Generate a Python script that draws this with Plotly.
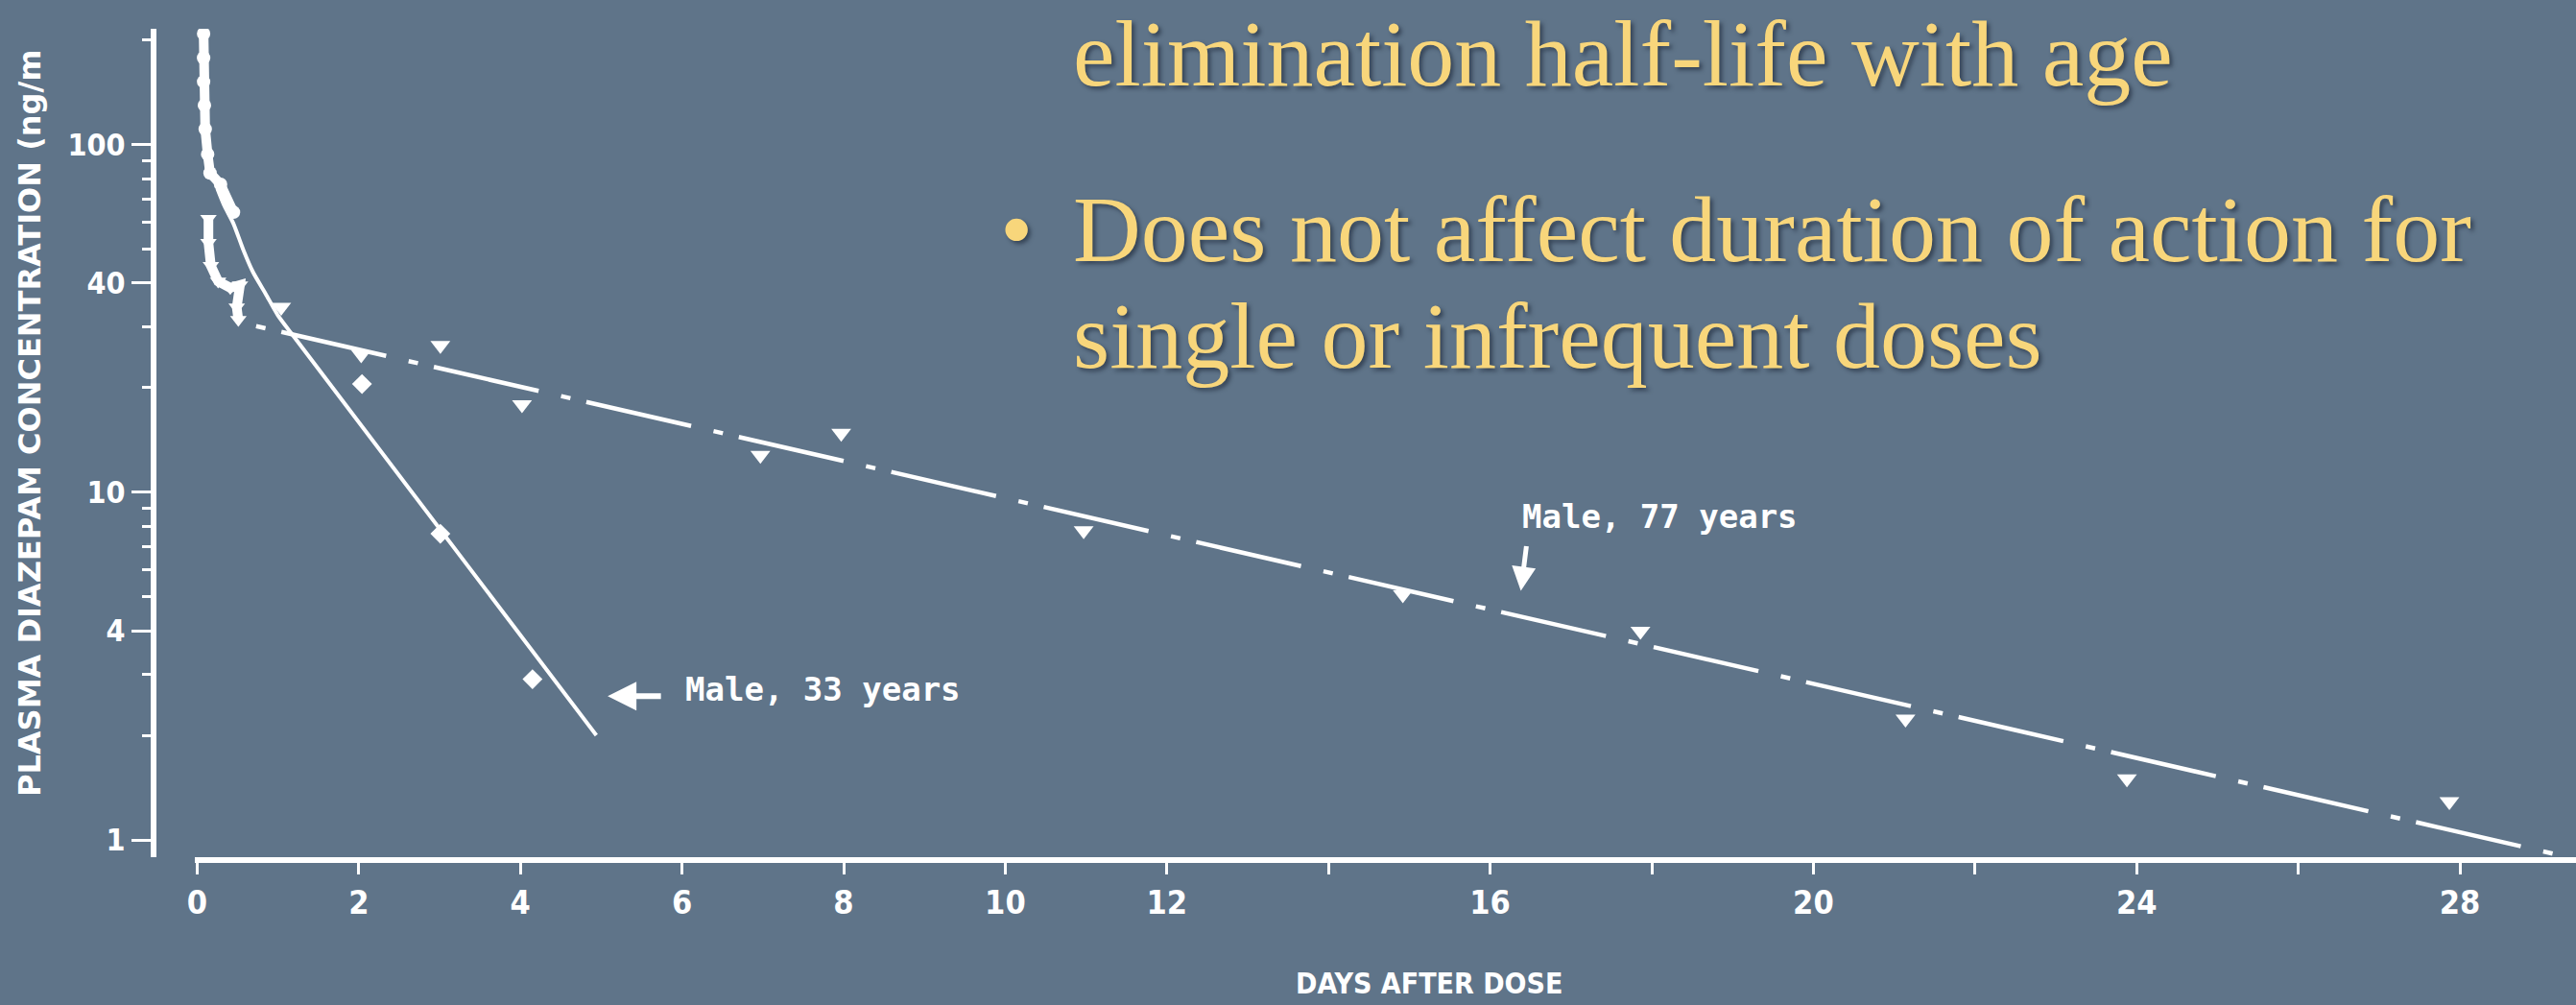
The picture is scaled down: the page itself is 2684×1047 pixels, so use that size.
import math
import plotly.graph_objects as go

# ---------------- data ----------------
# Male, 33 years: early (merged) samples and later samples
young_early_days = [0.08, 0.08, 0.08, 0.09, 0.10, 0.13, 0.16, 0.29, 0.45]
young_early_conc = [209, 178, 152, 130, 111, 94, 83, 77, 64]
young_late_days = [2.04, 3.01, 4.15]
young_late_conc = [20.5, 7.6, 2.9]
# fitted curve for the 33-year-old (solid)
young_fit_days = [0.25, 0.33, 0.45, 0.57, 0.69, 0.85, 1.00, 1.20, 4.94]
young_fit_conc = [74.8, 67.3, 59.3, 50.0, 43.1, 37.2, 32.3, 28.0, 2.0]

# Male, 77 years: early (merged) samples and later samples
old_early_days = [0.14, 0.14, 0.17, 0.26, 0.41, 0.53, 0.49, 0.51]
old_early_conc = [61.3, 52.3, 44.9, 40.5, 38.8, 39.5, 34.1, 31.4]
old_late_days = [1.04, 2.03, 3.01, 4.02, 6.97, 7.97, 10.97, 14.92, 17.86, 21.14, 23.88, 27.87]
old_late_conc = [34.1, 24.9, 26.5, 17.9, 12.8, 14.8, 7.76, 5.08, 3.99, 2.23, 1.50, 1.29]
# fitted line for the 77-year-old (dash-dot)
old_fit_days = [0.73, 29.27]
old_fit_conc = [30.1, 0.90]

x_tick_vals = [0, 2, 4, 6, 8, 10, 12, 14, 16, 18, 20, 22, 24, 26, 28]
x_tick_text = ["0", "2", "4", "6", "8", "10", "12", "", "16", "", "20", "", "24", "", "28"]
y_tick_vals = [1, 4, 10, 40, 100]
y_tick_text = ["1", "4", "10", "40", "100"]
y_minor_vals = [2, 3, 5, 6, 7, 8, 9, 20, 30, 50, 60, 70, 80, 90, 200]

# label arrow targets (day, concentration)
arrow33 = (5.08, 2.59)
arrow77 = (16.38, 5.21)

bullet_lines = [
    "elimination half-life with age",
    "Does not affect duration of action for",
    "single or infrequent doses",
]

# ---------------- layout geometry ----------------
W, H = 2684, 1047
ML, MR, MT, MB = 160, 0, 30, 154
PW, PH = W - ML - MR, H - MT - MB


def px(x):
    return (x - ML) / PW


def py(y):
    return (H - MB - y) / PH


BG = "#5f7489"
WHITE = "white"
YELLOW = "#f8d67b"
NARROW = "Liberation Sans Narrow, DejaVu Sans Condensed, Arial Narrow, sans-serif"
MONO = "DejaVu Sans Mono, Liberation Mono, monospace"
SERIF = "Liberation Serif, DejaVu Serif, serif"
SHADOW = "3px 3px 4px rgba(20,30,45,0.55)"

fig = go.Figure()

fig.add_trace(go.Scatter(x=young_fit_days, y=young_fit_conc, mode="lines",
                         line=dict(color=WHITE, width=4, shape="spline", smoothing=0.6),
                         hoverinfo="skip"))
fig.add_trace(go.Scatter(x=old_fit_days, y=old_fit_conc, mode="lines",
                         line=dict(color=WHITE, width=4.5, dash="10px,17px,112px,24px"),
                         hoverinfo="skip"))
fig.add_trace(go.Scatter(x=young_early_days, y=young_early_conc, mode="lines+markers",
                         line=dict(color=WHITE, width=10),
                         marker=dict(color=WHITE, size=14, symbol="circle")))
fig.add_trace(go.Scatter(x=young_late_days, y=young_late_conc, mode="markers",
                         marker=dict(color=WHITE, size=16, symbol="diamond")))
fig.add_trace(go.Scatter(x=old_early_days, y=old_early_conc, mode="lines+markers",
                         line=dict(color=WHITE, width=10),
                         marker=dict(color=WHITE, size=15, symbol="triangle-down")))
fig.add_trace(go.Scatter(x=old_late_days, y=old_late_conc, mode="markers",
                         marker=dict(color=WHITE, size=18, symbol="triangle-down")))

annotations = [
    dict(text="PLASMA DIAZEPAM CONCENTRATION (ng/m", textangle=-90,
         x=px(31), y=py(441), xref="paper", yref="paper", showarrow=False,
         xanchor="center", yanchor="middle",
         font=dict(family="DejaVu Sans, sans-serif", size=32, color=WHITE, weight="bold")),
    dict(text="DAYS AFTER DOSE", x=px(1489), y=py(1024), xref="paper", yref="paper",
         showarrow=False, xanchor="center", yanchor="middle",
         font=dict(family=NARROW, size=30, color=WHITE, weight="bold")),
    dict(text="Male, 33 years", x=px(857), y=py(718), xref="paper", yref="paper",
         showarrow=False, xanchor="center", yanchor="middle",
         font=dict(family=MONO, size=34, color=WHITE, weight="bold")),
    dict(text="Male, 77 years", x=px(1729), y=py(538), xref="paper", yref="paper",
         showarrow=False, xanchor="center", yanchor="middle",
         font=dict(family=MONO, size=34, color=WHITE, weight="bold")),
    dict(text="", x=arrow33[0], y=math.log10(arrow33[1]), xref="x", yref="y",
         ax=57, ay=0, showarrow=True, arrowhead=2, arrowsize=1.0, arrowwidth=6,
         arrowcolor=WHITE),
    dict(text="", x=arrow77[0], y=math.log10(arrow77[1]), xref="x", yref="y",
         ax=6, ay=-48, showarrow=True, arrowhead=2, arrowsize=1.0, arrowwidth=5,
         arrowcolor=WHITE),
]

# first line sits at the very top of the slide
annotations.append(dict(text=bullet_lines[0], x=px(1116), y=py(0), xref="paper", yref="paper",
                        showarrow=False, xanchor="left", yanchor="top",
                        font=dict(family=SERIF, size=98, color=YELLOW, shadow=SHADOW)))
for txt, yc in zip(bullet_lines[1:], [239, 350]):
    annotations.append(dict(text=txt, x=px(1116), y=py(yc), xref="paper", yref="paper",
                            showarrow=False, xanchor="left", yanchor="middle",
                            font=dict(family=SERIF, size=98, color=YELLOW, shadow=SHADOW)))
annotations.append(dict(text="\u2022", x=px(1059), y=py(239), xref="paper", yref="paper",
                        showarrow=False, xanchor="center", yanchor="middle",
                        font=dict(family=SERIF, size=98, color=YELLOW, shadow=SHADOW)))

tickfont = dict(family=NARROW, size=34, color=WHITE, weight="bold")

fig.update_layout(
    width=W, height=H,
    margin=dict(l=ML, r=MR, t=MT, b=MB, pad=0),
    paper_bgcolor=BG, plot_bgcolor=BG,
    showlegend=False,
    annotations=annotations,
    xaxis=dict(domain=[px(203), 1], range=[-0.0285, 29.437],
               showline=True, linecolor=WHITE, linewidth=6,
               ticks="outside", ticklen=12, tickwidth=3, tickcolor=WHITE,
               tickmode="array", tickvals=x_tick_vals, ticktext=x_tick_text,
               tickfont=tickfont, showgrid=False, zeroline=False),
    yaxis=dict(type="log", anchor="free", position=0, range=[-0.0497, 2.334],
               showline=True, linecolor=WHITE, linewidth=6,
               ticks="outside", ticklen=20, tickwidth=3, tickcolor=WHITE,
               tickmode="array", tickvals=y_tick_vals, ticktext=y_tick_text,
               minor=dict(ticks="outside", ticklen=9, tickwidth=3, tickcolor=WHITE,
                          tickmode="array", tickvals=y_minor_vals, showgrid=False),
               tickfont=dict(family=NARROW, size=32, color=WHITE, weight="bold"),
               showgrid=False, zeroline=False),
)

fig.write_html(
    "out.html",
    config={"displayModeBar": False},
    post_script="document.body.style.margin='0px';document.body.style.padding='0px';"
                "document.body.style.background='#5f7489';",
)
